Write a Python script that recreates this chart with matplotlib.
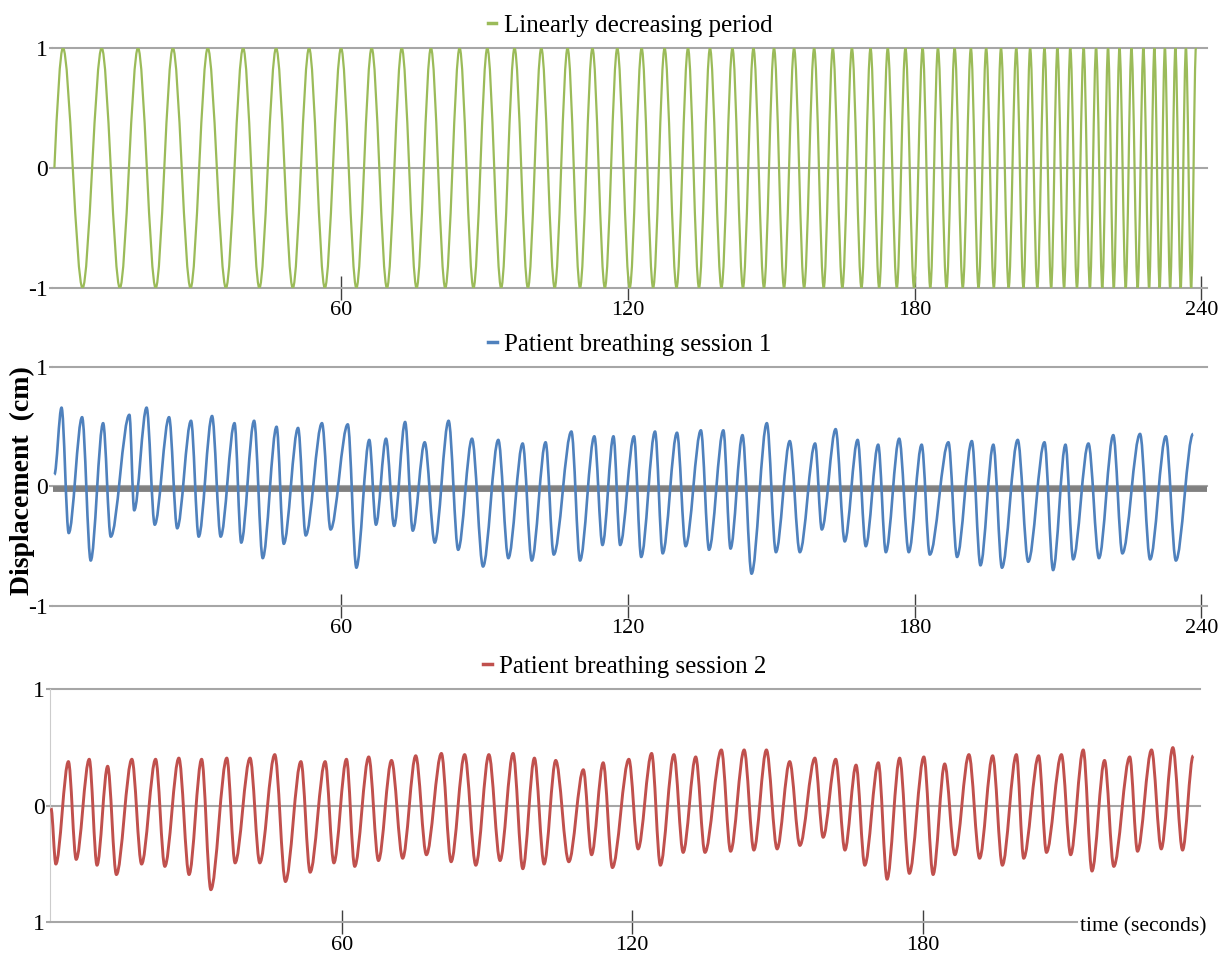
"""
Three stacked displacement traces: synthetic chirp and two patient breathing sessions
"""

import matplotlib.pyplot as plt
from matplotlib.path import Path
from matplotlib.patches import PathPatch

#---------------------------------------------------------------------------------------------------
# Data
#---------------------------------------------------------------------------------------------------

# Linearly decreasing period: times (s) of the maxima (+1) and minima (-1)
green_peaks = [1.8, 9.9, 17.5, 24.8, 32.1, 39.5, 46.4, 53.3, 60.0, 66.4, 72.7, 78.8, 84.8, 90.6,
               96.3, 101.9, 107.4, 112.6, 117.8, 122.9, 127.7, 132.6, 137.2, 141.9, 146.3, 150.6,
               154.8, 159.0, 162.9, 166.9, 170.8, 174.4, 178.1, 181.7, 184.9, 188.4, 191.8, 195.0,
               198.1, 201.3, 204.2, 207.2, 209.9, 212.6, 215.4, 218.0, 220.5, 222.9, 225.4, 227.9,
               230.2, 232.4, 234.6, 236.8, 238.9]
green_troughs = [5.9, 13.7, 21.2, 28.5, 35.9, 42.9, 49.9, 56.6, 63.2, 69.6, 75.8, 81.8, 87.7, 93.5,
                 99.1, 104.7, 110.0, 115.2, 120.4, 125.3, 130.2, 134.9, 139.6, 144.1, 148.5, 152.7,
                 156.9, 161.0, 164.9, 168.9, 172.6, 176.3, 179.9, 183.3, 186.7, 190.1, 193.4, 196.6,
                 199.7, 202.8, 205.7, 208.6, 211.3, 214.0, 216.7, 219.3, 221.7, 224.2, 226.7, 229.1,
                 231.3, 233.5, 235.7, 237.9]

# Patient breathing session 1 (turning points)
blue_t = [0.0, 1.5, 3.0, 5.8, 7.6, 10.2, 11.8, 15.7, 16.7, 19.3, 21.0, 24.0, 25.7, 28.6, 30.2,
          33.0, 34.8, 37.7, 39.1, 41.8, 43.6, 46.5, 48.0, 51.0, 52.6, 56.0, 57.8, 61.4, 63.2,
          65.9, 67.3, 69.4, 71.1, 73.4, 75.0, 77.5, 79.6, 82.5, 84.5, 87.4, 89.7, 92.9, 95.0,
          98.0, 99.9, 102.8, 104.5, 108.2, 110.0, 113.0, 114.7, 117.0, 118.4, 121.3, 122.8,
          125.7, 127.3, 130.3, 132.1, 135.3, 137.0, 140.0, 141.5, 144.0, 145.9, 149.1, 151.0,
          153.9, 156.0, 159.2, 160.6, 163.5, 165.4, 168.1, 169.8, 172.4, 174.0, 176.8, 178.8,
          181.5, 183.2, 187.1, 188.9, 192.0, 193.8, 196.5, 198.3, 201.6, 203.8, 207.2, 209.0,
          211.6, 213.2, 216.4, 218.6, 221.6, 223.5, 227.2, 229.3, 232.6, 234.7, 238.3]
blue_y = [0.10, 0.66, -0.39, 0.58, -0.62, 0.53, -0.42, 0.60, -0.20, 0.66, -0.32, 0.58, -0.35,
          0.55, -0.42, 0.59, -0.42, 0.53, -0.47, 0.55, -0.60, 0.50, -0.48, 0.49, -0.41, 0.53,
          -0.36, 0.52, -0.68, 0.39, -0.32, 0.40, -0.33, 0.54, -0.37, 0.37, -0.47, 0.55, -0.53,
          0.40, -0.67, 0.39, -0.60, 0.36, -0.62, 0.37, -0.57, 0.46, -0.62, 0.42, -0.49, 0.42,
          -0.49, 0.42, -0.59, 0.46, -0.56, 0.45, -0.50, 0.47, -0.53, 0.47, -0.52, 0.43, -0.73,
          0.53, -0.55, 0.38, -0.55, 0.36, -0.36, 0.48, -0.46, 0.39, -0.50, 0.35, -0.55, 0.40,
          -0.55, 0.35, -0.57, 0.37, -0.59, 0.38, -0.66, 0.35, -0.68, 0.39, -0.63, 0.37, -0.70,
          0.35, -0.61, 0.36, -0.60, 0.43, -0.56, 0.44, -0.61, 0.42, -0.62, 0.44]
blue_baseline = -0.025

# Patient breathing session 2 (turning points)
red_t = [0.0, 1.0, 3.6, 5.2, 7.9, 9.5, 11.7, 13.5, 16.7, 18.7, 21.6, 23.5, 26.4, 28.5, 31.1,
         33.0, 36.3, 38.0, 41.1, 43.1, 46.2, 48.4, 51.6, 53.5, 56.6, 58.4, 61.0, 62.7, 65.6,
         67.6, 70.3, 72.6, 75.3, 77.5, 80.6, 82.6, 85.4, 87.7, 90.4, 92.7, 95.4, 97.4, 99.8,
         101.8, 104.2, 106.9, 109.9, 111.6, 114.0, 115.9, 119.3, 121.2, 124.0, 125.8, 128.6,
         130.5, 133.1, 135.0, 138.4, 140.3, 143.1, 145.1, 147.7, 149.9, 152.5, 154.6, 157.7,
         159.4, 162.0, 163.9, 166.2, 168.0, 170.8, 172.6, 175.2, 177.2, 180.2, 182.1, 184.5,
         186.6, 189.5, 191.7, 194.4, 196.4, 199.3, 200.8, 203.9, 205.5, 208.6, 210.5, 213.1,
         214.9, 217.5, 219.4, 222.7, 224.3, 227.2, 229.2, 231.6, 233.6, 235.8]
red_y = [-0.02, -0.50, 0.38, -0.46, 0.40, -0.51, 0.34, -0.59, 0.40, -0.50, 0.40, -0.52, 0.41,
         -0.59, 0.40, -0.72, 0.41, -0.49, 0.41, -0.49, 0.44, -0.65, 0.38, -0.57, 0.38, -0.49,
         0.40, -0.52, 0.42, -0.47, 0.39, -0.45, 0.43, -0.42, 0.45, -0.48, 0.44, -0.51, 0.44,
         -0.47, 0.45, -0.54, 0.41, -0.50, 0.39, -0.48, 0.31, -0.42, 0.37, -0.53, 0.40, -0.37,
         0.45, -0.51, 0.44, -0.40, 0.42, -0.40, 0.48, -0.39, 0.48, -0.38, 0.48, -0.37, 0.38,
         -0.34, 0.41, -0.27, 0.40, -0.38, 0.35, -0.51, 0.37, -0.63, 0.41, -0.58, 0.42, -0.59,
         0.36, -0.42, 0.44, -0.45, 0.43, -0.51, 0.44, -0.45, 0.43, -0.40, 0.44, -0.42, 0.48,
         -0.56, 0.39, -0.52, 0.42, -0.39, 0.48, -0.37, 0.50, -0.38, 0.43]

titles = ['Linearly decreasing period', 'Patient breathing session 1', 'Patient breathing session 2']
xticks = [60, 120, 180, 240]
yticks = [-1, 0, 1]

#---------------------------------------------------------------------------------------------------
# Main Program
#---------------------------------------------------------------------------------------------------

serif = 'Liberation Serif'
grid_c = '#A6A6A6'
colors = ['#9BBB59', '#4F81BD', '#C0504D']


def smooth_path(ts, ys, start_slope=None):
    """Bezier path through turning points with flat tangents at each extremum"""
    verts = [(ts[0], ys[0])]
    codes = [Path.MOVETO]
    for i in range(1, len(ts)):
        t0, y0, t1, y1 = ts[i-1], ys[i-1], ts[i], ys[i]
        h = t1 - t0
        c1 = (t0 + h/3, y0 + (start_slope if (i == 1 and start_slope) else 0.0))
        c2 = (t1 - h/3, y1)
        verts += [c1, c2, (t1, y1)]
        codes += [Path.CURVE4] * 3
    return Path(verts, codes)


fig = plt.figure(figsize=(12.2, 9.66), dpi=100)
ax1 = fig.add_axes([0.0434, 0.7019, 0.9459, 0.2484])
ax2 = fig.add_axes([0.0434, 0.3727, 0.9459, 0.2474])
ax3 = fig.add_axes([0.0410, 0.0452, 0.9426, 0.2412])

# chirp: alternate the maxima and minima
ext_t = [0.0]
ext_y = [0.0]
for k, tp in enumerate(green_peaks):
    ext_t.append(tp)
    ext_y.append(1.0)
    if k < len(green_troughs):
        ext_t.append(green_troughs[k])
        ext_y.append(-1.0)

ax1.add_patch(PathPatch(smooth_path(ext_t, ext_y, start_slope=0.5236), fill=False,
                        edgecolor=colors[0], lw=1.6, joinstyle='round', zorder=3))
ax1.plot([], [], color=colors[0], lw=2.5, label=titles[0])

ax2.axhline(blue_baseline, color='#808080', lw=4.2, zorder=2)
ax2.add_patch(PathPatch(smooth_path(blue_t, blue_y), fill=False, edgecolor=colors[1], lw=1.9,
                        joinstyle='round', zorder=3))
ax2.plot([], [], color=colors[1], lw=2.5, label=titles[1])

ax3.add_patch(PathPatch(smooth_path(red_t, red_y), fill=False, edgecolor=colors[2], lw=2.1,
                        joinstyle='round', zorder=3))
ax3.plot([], [], color=colors[2], lw=2.5, label=titles[2])

xlims = [(-0.3, 241.2), (-0.3, 241.2), (-0.2, 237.2)]
for j, ax in enumerate([ax1, ax2, ax3]):
    ax.set_xlim(xlims[j])
    ax.set_ylim(-1, 1)
    for s in ['top', 'right', 'left']:
        ax.spines[s].set_visible(False)
    ax.spines['bottom'].set_color(grid_c)
    ax.spines['bottom'].set_linewidth(1.5)
    for v in [0, 1]:
        ax.axhline(v, color=grid_c, lw=1.5, zorder=1, clip_on=False)
    ax.set_xticks([x for x in xticks if x <= xlims[j][1]])
    ax.set_yticks(yticks)
    ax.set_yticklabels(['1' if j == 2 else '-1', '0', '1'])
    ax.tick_params(axis='x', direction='inout', length=17, width=1, color='#404040', pad=1,
                   labelsize=16)
    ax.tick_params(axis='y', direction='out', length=3, width=1.5, color=grid_c, pad=1,
                   labelsize=17)
    for lab in ax.get_xticklabels() + ax.get_yticklabels():
        lab.set_fontfamily(serif)
    ax.legend(loc='lower center', bbox_to_anchor=(0.5, 1.0), frameon=False, handlelength=0.35,
              handletextpad=0.3, borderaxespad=0.05, prop={'family': serif, 'size': 18})

# bottom panel: visible left spine, axis line stops where the axis title starts
ax3.spines['left'].set_visible(True)
ax3.spines['left'].set_color('#CCCCCC')
ax3.spines['bottom'].set_bounds(-0.2, 211.8)
fig.text(0.885, 0.041, 'time (seconds)', family=serif, size=15.5, ha='left', va='center')

fig.text(0.018, 0.503, 'Displacement  (cm)', family=serif, size=20, weight='bold',
         rotation=90, ha='center', va='center')

plt.savefig('out.png', dpi=100)
plt.close()
